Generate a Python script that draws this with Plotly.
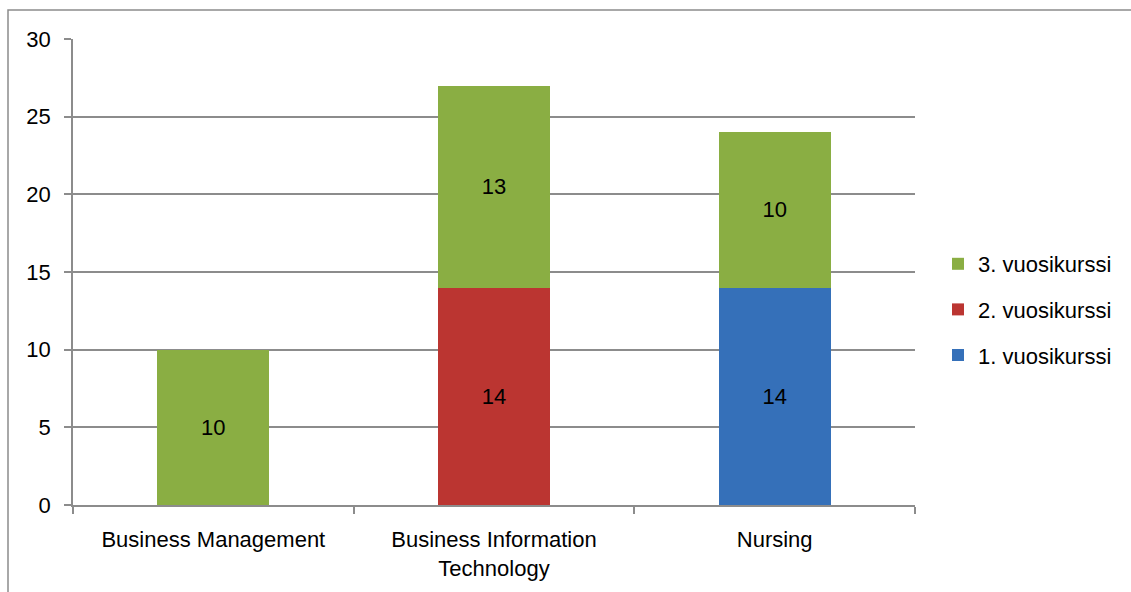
import plotly.graph_objects as go

# Students per programme and study year
programmes = ["Business Management", "Business Information<br>Technology", "Nursing"]
year1 = [None, None, 14]
year2 = [None, 14, None]
year3 = [10, 13, 10]

series = [
    ("1. vuosikurssi", year1, "#3570b9", 3),
    ("2. vuosikurssi", year2, "#bb3531", 2),
    ("3. vuosikurssi", year3, "#8aae43", 1),
]

FONT = "Liberation Sans, Arial, sans-serif"
FS = 22

fig = go.Figure()
for i, (name, vals, color, rank) in enumerate(series):
    fig.add_trace(go.Bar(
        x=programmes, y=vals, name=name,
        marker=dict(color=color, line=dict(width=0)),
        width=0.4,
        text=[v if v is not None else "" for v in vals],
        textposition="inside", insidetextanchor="middle",
        textangle=0,
        textfont=dict(family=FONT, size=FS, color="#000000"),
        legendgroup=f"g{i}", legendrank=rank,
    ))

W, H = 1131, 592
ml, mr, mt, mb = 73, 216, 39, 87
pw, ph = W - ml - mr, H - mt - mb

fig.update_layout(
    width=W, height=H,
    barmode="stack",
    plot_bgcolor="white", paper_bgcolor="white",
    margin=dict(l=ml, r=mr, t=mt, b=mb, autoexpand=False),
    font=dict(family=FONT, size=FS, color="#000000"),
    legend=dict(
        x=(938 - ml) / pw, y=1 - (243 - mt) / ph,
        xanchor="left", yanchor="top",
        traceorder="grouped", tracegroupgap=14,
        font=dict(family=FONT, size=FS, color="#000000"),
        bgcolor="rgba(0,0,0,0)",
    ),
    xaxis=dict(
        showgrid=False, showline=True, linecolor="#8c8c8c", linewidth=1.5,
        ticks="outside", tickson="boundaries", ticklen=7, tickcolor="#8c8c8c", tickwidth=1.5,
        range=[-0.5, 2.5], tickangle=0, automargin=False,
        ticklabelstandoff=14,
        tickfont=dict(family=FONT, size=FS),
    ),
    yaxis=dict(
        range=[0, 30], dtick=5, showgrid=True, gridcolor="#8c8c8c", gridwidth=1.5,
        showline=True, linecolor="#8c8c8c", linewidth=1.5,
        ticks="outside", ticklen=7, tickcolor="#8c8c8c", tickwidth=1.5,
        ticklabelstandoff=9, zeroline=False, automargin=False,
        tickfont=dict(family=FONT, size=FS),
    ),
    shapes=[dict(
        type="rect", xref="paper", yref="paper",
        x0=(8 - ml) / pw, x1=(W + 20 - ml) / pw,
        y0=-(mb + 20) / ph, y1=1 + (mt - 10) / ph,
        line=dict(color="#8c8c8c", width=1.5), fillcolor="rgba(0,0,0,0)", layer="below",
    )],
)

fig.write_html("out.html")
